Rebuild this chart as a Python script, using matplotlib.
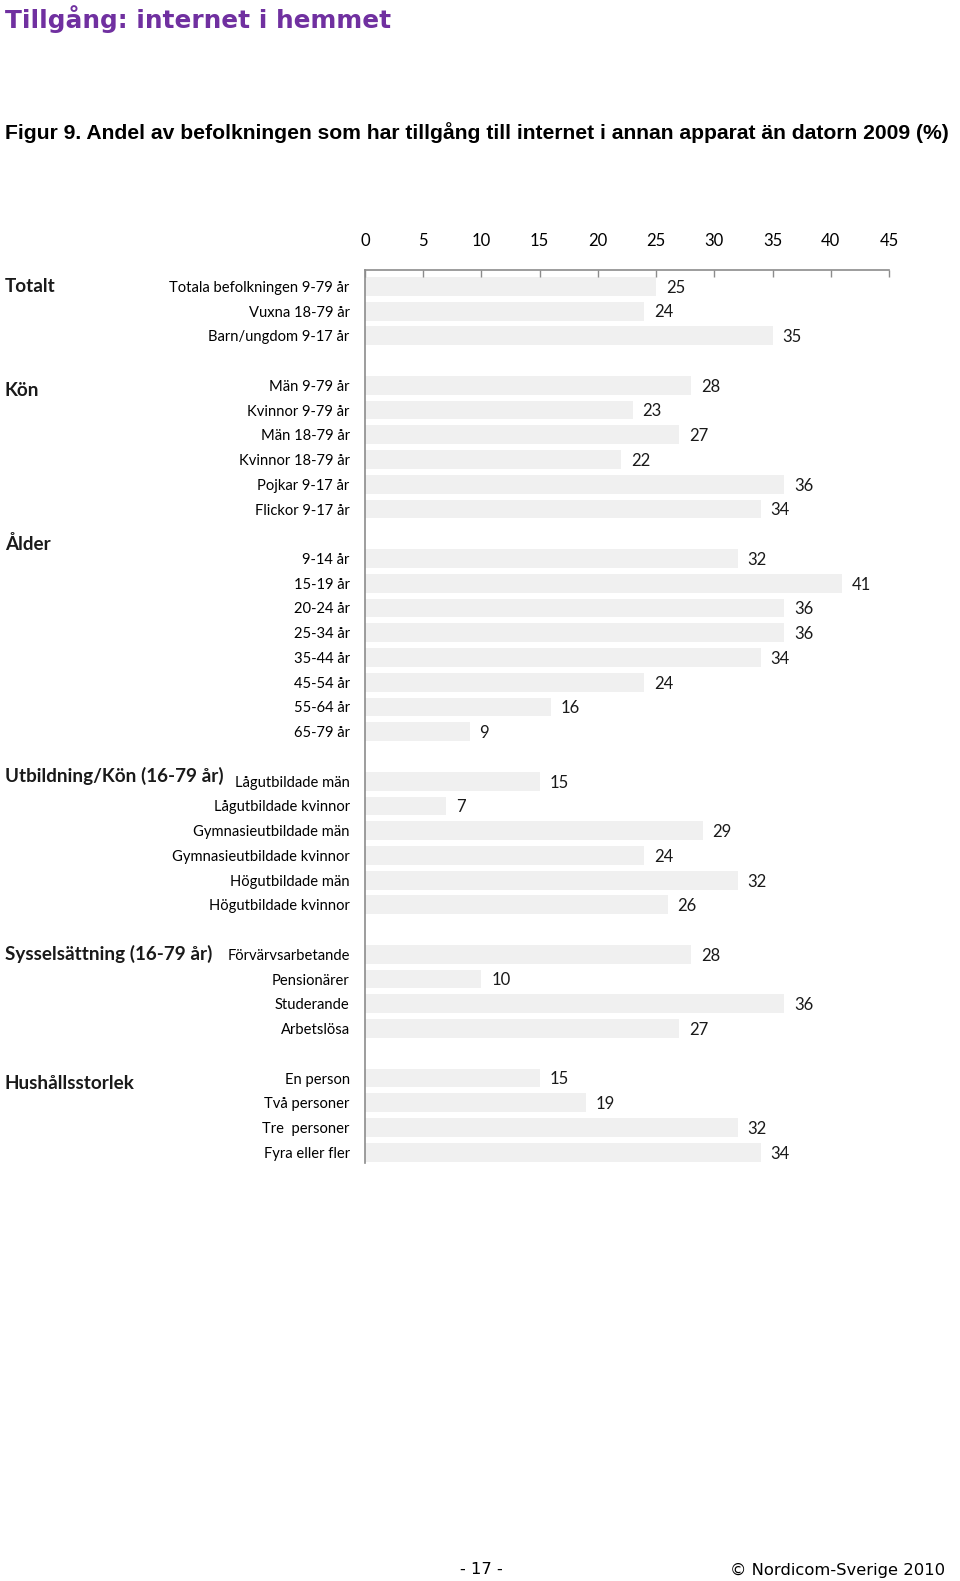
#!/usr/bin/env python3
"""
Figur 9: share of the population with internet access on a device other than
the computer, 2009 (%). Horizontal bars grouped by background variable.
"""

import matplotlib
matplotlib.use('Agg')
import matplotlib.pyplot as plt
from matplotlib.transforms import blended_transform_factory

# --- data -------------------------------------------------------------------
group_names = ['Totalt', 'Kön', 'Ålder', 'Utbildning/Kön (16-79 år)',
               'Sysselsättning (16-79 år)', 'Hushållsstorlek']

totalt_labels = ['Totala befolkningen 9-79 år', 'Vuxna 18-79 år',
                 'Barn/ungdom 9-17 år']
totalt_values = [25, 24, 35]

kon_labels = ['Män 9-79 år', 'Kvinnor 9-79 år', 'Män 18-79 år',
              'Kvinnor 18-79 år', 'Pojkar 9-17 år', 'Flickor 9-17 år']
kon_values = [28, 23, 27, 22, 36, 34]

alder_labels = ['9-14 år', '15-19 år', '20-24 år', '25-34 år', '35-44 år',
                '45-54 år', '55-64 år', '65-79 år']
alder_values = [32, 41, 36, 36, 34, 24, 16, 9]

utb_labels = ['Lågutbildade män', 'Lågutbildade kvinnor',
              'Gymnasieutbildade män', 'Gymnasieutbildade kvinnor',
              'Högutbildade män', 'Högutbildade kvinnor']
utb_values = [15, 7, 29, 24, 32, 26]

syss_labels = ['Förvärvsarbetande', 'Pensionärer', 'Studerande', 'Arbetslösa']
syss_values = [28, 10, 36, 27]

hush_labels = ['En person', 'Två personer', 'Tre  personer', 'Fyra eller fler']
hush_values = [15, 19, 32, 34]

groups = [
    (totalt_labels, totalt_values),
    (kon_labels, kon_values),
    (alder_labels, alder_values),
    (utb_labels, utb_values),
    (syss_labels, syss_values),
    (hush_labels, hush_values),
]

# vertical nudge of each group heading, in rows (layout only)
heading_shift = [0.0, 0.2, -0.57, -0.2, 0.0, 0.2]

BAR_COLOR = '#f0f0f0'
AXIS_COLOR = '#8c8c8c'
NARROW = ['Liberation Sans Narrow', 'Lato', 'DejaVu Sans']


def main():
    fig = plt.figure(figsize=(9.6, 15.81), dpi=100)
    ax = fig.add_axes([0.3802, 0.2646, 0.5458, 0.5646])

    # lay rows out with one empty row between groups
    ypos, labels, values, heads = [], [], [], []
    row = 0
    for labs, vals in groups:
        heads.append(row)
        for lab, val in zip(labs, vals):
            ypos.append(row)
            labels.append(lab)
            values.append(val)
            row += 1
        row += 1

    ax.barh(ypos, values, height=0.76, color=BAR_COLOR, edgecolor='none')

    for y, v in zip(ypos, values):
        ax.annotate(str(v), (v, y), xytext=(7, -1), textcoords='offset points',
                    ha='left', va='center', fontsize=12, family=NARROW,
                    color='#1a1a1a')

    ax.set_xlim(0, 45)
    ax.set_ylim(35.42, -0.66)
    ax.set_xticks(range(0, 46, 5))
    ax.xaxis.tick_top()
    ax.tick_params(axis='x', direction='in', length=5, width=1,
                   color=AXIS_COLOR, pad=15, labelsize=12)
    for t in ax.get_xticklabels():
        t.set_family(NARROW)

    ax.set_yticks(ypos)
    ax.set_yticklabels(labels, family=NARROW, fontsize=10.6)
    ax.tick_params(axis='y', length=0, pad=11)

    for side in ['bottom', 'right']:
        ax.spines[side].set_visible(False)
    for side in ['top', 'left']:
        ax.spines[side].set_color(AXIS_COLOR)
        ax.spines[side].set_linewidth(1.2)

    trans = blended_transform_factory(fig.transFigure, ax.transData)
    for name, y, dy in zip(group_names, heads, heading_shift):
        ax.text(5 / 960, y + dy, name, transform=trans, ha='left', va='center',
                fontsize=13.6, fontweight='bold', family=NARROW,
                color='#1a1a1a', clip_on=False)

    # page texts
    fig.text(5 / 960, 1 - 19 / 1581, 'Tillgång: internet i hemmet',
             ha='left', va='center', fontsize=17.8, fontweight='bold',
             color='#7030a0', family='DejaVu Sans')
    fig.text(5 / 960, 1 - 133 / 1581,
             'Figur 9. Andel av befolkningen som har tillgång till internet '
             'i annan apparat än datorn 2009 (%)',
             ha='left', va='center', fontsize=15.2, fontweight='bold',
             family=['Liberation Sans', 'DejaVu Sans'])
    fig.text(481 / 960, 1 - 1570 / 1581, '- 17 -', ha='center', va='center',
             fontsize=11.8, family='DejaVu Sans')
    fig.text(945 / 960, 1 - 1570 / 1581, '© Nordicom-Sverige 2010',
             ha='right', va='center', fontsize=11.8, family='DejaVu Sans')

    fig.savefig('out.png', dpi=100)


if __name__ == '__main__':
    main()
